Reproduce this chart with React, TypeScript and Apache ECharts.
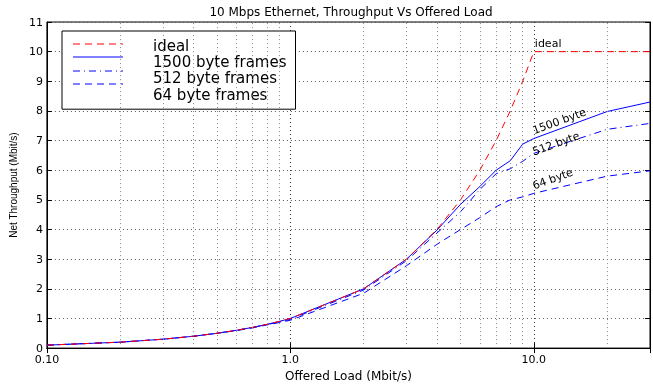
import React, { useEffect, useRef } from "react";
import * as echarts from "echarts";

// ---- data ----
const loads = [0.1, 0.2, 0.3, 0.4, 0.5, 0.6, 0.7, 0.8, 0.9, 1, 2, 3, 4, 5, 6, 7, 8, 9, 10, 20, 30];
const idealTput = [0.1, 0.2, 0.3, 0.4, 0.5, 0.6, 0.7, 0.8, 0.9, 1, 2, 3, 4, 5, 6, 7, 8, 9, 10, 10, 10];
const tput1500 = [0.1, 0.2, 0.3, 0.4, 0.5, 0.6, 0.7, 0.8, 0.9, 1.0, 2.0, 3.0, 3.98, 4.85, 5.45, 6.0, 6.32, 6.88, 7.07, 7.98, 8.3];
const tput512 = [0.1, 0.2, 0.3, 0.4, 0.5, 0.6, 0.7, 0.79, 0.88, 0.97, 1.96, 2.95, 3.88, 4.6, 5.35, 5.88, 6.05, 6.3, 6.57, 7.38, 7.58];
const tput64 = [0.1, 0.2, 0.3, 0.4, 0.5, 0.59, 0.68, 0.78, 0.86, 0.94, 1.85, 2.78, 3.5, 4.0, 4.4, 4.77, 5.0, 5.1, 5.22, 5.8, 5.98];
const seriesNames = ["ideal", "1500 byte frames", "512 byte frames", "64 byte frames"];
const curveLabels = ["ideal", "1500 byte", "512 byte", "64 byte"];
const labelAtLoad = 10;
const xTickValues = [0.1, 1, 10];
const xTickLabels = ["0.10", "1.0", "10.0"];
const minorGridLoads = [0.2, 0.3, 0.4, 0.5, 0.6, 0.7, 0.8, 0.9, 2, 3, 4, 5, 6, 7, 8, 9, 20];
const titleText = "10 Mbps Ethernet, Throughput Vs Offered Load";
const xName = "Offered Load (Mbit/s)";
const yName = "Net Throughput (Mbit/s)";

// ---- styles ----
const FONT = "DejaVu Sans";
const colors = ["#ff0000", "#0000ff", "#0000ff", "#0000ff"];
const dashes: any[] = [[7, 5], "solid", [7, 4, 1, 4], [7, 5]];
const dashArrays: any[] = [[7, 5], null, [7, 4, 1, 4], [7, 5]];
const labelOffsets = [[1, -3], [1, -2.5], [1, 4], [1, -2]];
const labelRot = [0, 20, 20, 20];
const LEG = { left: 62, top: 31, padTop: 7, padLeft: 11, itemW: 50, itemH: 12, gap: 1.4 };

export default function App() {
  const ref = useRef<HTMLDivElement>(null);
  useEffect(() => {
    if (!ref.current) return;
    const chart = echarts.init(ref.current, null, { renderer: "svg" });
    const allVals = [idealTput, tput1500, tput512, tput64];
    const zip = (ys: number[]) => loads.map((x, i) => [x, ys[i]]);
    const fmtX = (v: number) => {
      const i = xTickValues.findIndex((d) => Math.abs(d - v) / d < 1e-6);
      return i >= 0 ? xTickLabels[i] : "";
    };
    const option: any = {
      animation: false,
      color: colors,
      title: {
        text: titleText,
        left: 351,
        top: 6,
        textAlign: "center",
        padding: 0,
        textStyle: { fontFamily: FONT, fontSize: 12, fontWeight: "normal", color: "#000" },
      },
      grid: { left: 45, right: 0, top: 22, bottom: 31, show: true, borderColor: "#000", borderWidth: 1 },
      legend: {
        data: seriesNames,
        orient: "vertical",
        left: LEG.left,
        top: LEG.top,
        padding: [LEG.padTop, 9, LEG.padTop, LEG.padLeft],
        itemWidth: LEG.itemW,
        itemHeight: LEG.itemH,
        itemGap: LEG.gap,
        backgroundColor: "#fff",
        borderColor: "#000",
        borderWidth: 1,
        icon: "rect",
        itemStyle: { opacity: 0 },
        lineStyle: { opacity: 0 },
        textStyle: { fontFamily: FONT, fontSize: 15, color: "#000", padding: [0, 0, 0, 25], lineHeight: 12 },
      },
      xAxis: [
        {
          type: "log",
          logBase: 10,
          min: 0.1,
          max: 30,
          name: xName,
          nameLocation: "middle",
          nameGap: 15,
          nameTextStyle: { fontFamily: FONT, fontSize: 12, color: "#000" },
          axisLine: { lineStyle: { color: "#000", width: 1 } },
          axisTick: { inside: true, length: 5, lineStyle: { color: "#000" } },
          axisLabel: { formatter: fmtX, fontFamily: FONT, fontSize: 11, color: "#000", margin: 6, showMinLabel: true },
          splitLine: { show: true, lineStyle: { color: "#333", type: [1, 3], width: 1 } },
        },
        {
          type: "log",
          logBase: 10,
          min: 0.1,
          max: 30,
          position: "top",
          axisLine: { lineStyle: { color: "#000", width: 1 } },
          axisTick: { inside: true, length: 5, lineStyle: { color: "#000" } },
          axisLabel: { show: false },
          splitLine: { show: false },
        },
      ],
      yAxis: [
        {
          type: "value",
          min: 0,
          max: 11,
          interval: 1,
          name: yName,
          nameLocation: "middle",
          nameGap: 21,
          nameTextStyle: { fontFamily: "Liberation Sans", fontSize: 10, color: "#000" },
          axisLine: { show: true, lineStyle: { color: "#000", width: 1 } },
          axisTick: { show: true, inside: true, length: 5, lineStyle: { color: "#000" } },
          axisLabel: { fontFamily: FONT, fontSize: 11, color: "#000", margin: 4 },
          splitLine: { show: true, lineStyle: { color: "#555", type: [1, 3], width: 1 } },
        },
        {
          type: "value",
          min: 0,
          max: 11,
          interval: 1,
          position: "right",
          axisLine: { show: true, lineStyle: { color: "#000", width: 1 } },
          axisTick: { show: true, inside: true, length: 5, lineStyle: { color: "#000" } },
          axisLabel: { show: false },
          splitLine: { show: false },
        },
      ],
      series: [
        {
          name: "minor-grid",
          type: "line",
          data: [],
          silent: true,
          markLine: {
            silent: true,
            animation: false,
            symbol: ["none", "none"],
            label: { show: false },
            lineStyle: { color: "#888", type: [1, 3], width: 1 },
            data: minorGridLoads.map((x) => ({ xAxis: x })),
          },
        },
        ...seriesNames.map((name, k) => ({
          name,
          type: "line",
          data: zip(allVals[k]),
          symbol: "none",
          showSymbol: false,
          z: 3 + (k === 0 ? 1 : 0),
          itemStyle: { color: colors[k] },
          lineStyle: { color: colors[k], width: 1, type: dashes[k] },
        })),
      ],
    };
    chart.setOption(option);
    const idx = loads.indexOf(labelAtLoad);
    const graphics: any[] = curveLabels.map((t, k) => {
      const p = chart.convertToPixel({ seriesIndex: k + 1 } as any, [labelAtLoad, allVals[k][idx]]) as number[];
      return {
        type: "text",
        x: p[0] + labelOffsets[k][0],
        y: p[1] + labelOffsets[k][1],
        rotation: (labelRot[k] * Math.PI) / 180,
        z: 10,
        style: {
          text: t,
          fill: "#000",
          fontFamily: FONT,
          fontSize: 11,
          textAlign: "left",
          textVerticalAlign: "bottom",
          verticalAlign: "bottom",
        },
      };
    });
    seriesNames.forEach((_, k) => {
      const y = Math.round(LEG.top + LEG.padTop + k * (LEG.itemH + LEG.gap) + LEG.itemH / 2);
      const x0 = LEG.left + LEG.padLeft;
      graphics.push({
        type: "line",
        z: 100,
        shape: { x1: x0, y1: y, x2: x0 + LEG.itemW, y2: y },
        style: { stroke: colors[k], lineWidth: 1, lineDash: dashArrays[k] },
      });
    });
    chart.setOption({ graphic: graphics });
    return () => chart.dispose();
  }, []);
  return <div ref={ref} style={{ position: "fixed", left: 0, top: 0, width: 653, height: 387 }} />;
}
